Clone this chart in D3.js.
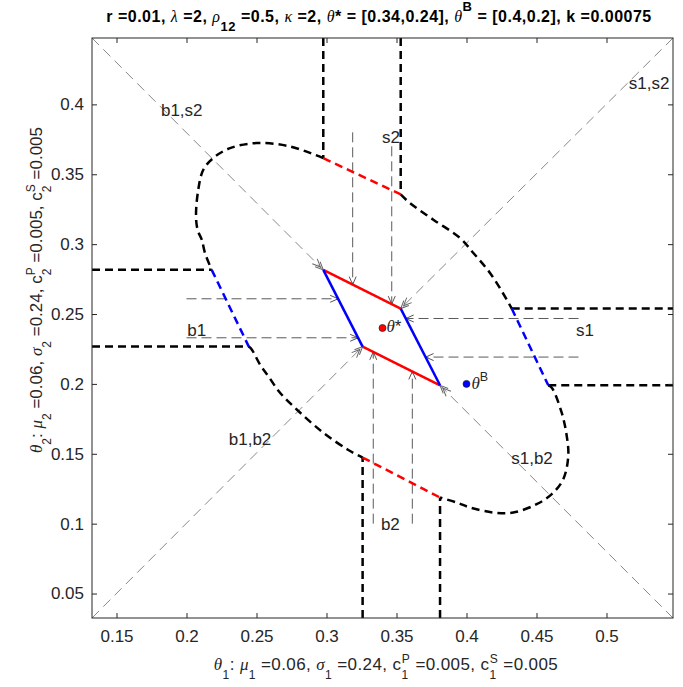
<!DOCTYPE html>
<html>
<head>
<meta charset="utf-8">
<script src="https://cdn.jsdelivr.net/npm/d3@7"></script>
<style>
  body { margin: 0; background: #fff; }
  svg { display: block; font-family: "Liberation Sans", Arial, sans-serif; }
</style>
</head>
<body>
<script>
// axis limits and ticks
const xDomain = [0.1325, 0.5475]
const yDomain = [0.0325, 0.4475]
const xTicks = [0.15, 0.2, 0.25, 0.3, 0.35, 0.4, 0.45, 0.5]
const yTicks = [0.05, 0.1, 0.15, 0.2, 0.25, 0.3, 0.35, 0.4]

const thetaStar = [0.34, 0.24]
const thetaB = [0.4, 0.2]

// no-trade region (solid)
const redEdges = [
  [[0.2977, 0.2816], [0.3530, 0.2539]],
  [[0.3258, 0.2267], [0.3811, 0.1990]]
]
const blueEdges = [
  [[0.2977, 0.2816], [0.3258, 0.2267]],
  [[0.3530, 0.2539], [0.3811, 0.1990]]
]

// outer boundary (thick dashed)
const blackSegs = [
  [[0.2977, 0.4475], [0.2977, 0.3615]],
  [[0.3530, 0.4475], [0.3530, 0.3356]],
  [[0.3258, 0.0325], [0.3258, 0.1473]],
  [[0.3811, 0.0325], [0.3811, 0.1187]],
  [[0.1325, 0.2816], [0.2180, 0.2816]],
  [[0.1325, 0.2267], [0.2445, 0.2267]],
  [[0.4323, 0.2539], [0.5475, 0.2539]],
  [[0.4584, 0.1990], [0.5475, 0.1990]]
]
const arcTopLeft = [[0.2977, 0.3615], [0.2739, 0.3699], [0.2501, 0.3723], [0.2311, 0.3687], [0.2191, 0.3616],
  [0.2120, 0.3532], [0.2084, 0.3389], [0.2068, 0.3199], [0.2080, 0.3100], [0.2109, 0.3032], [0.2132, 0.2937], [0.2180, 0.2816]]
const arcTopRight = [[0.3530, 0.3356], [0.3596, 0.3294], [0.3763, 0.3175], [0.3954, 0.3044], [0.4049, 0.2937],
  [0.4168, 0.2794], [0.4287, 0.2604], [0.4323, 0.2539]]
const arcBottomLeft = [[0.2445, 0.2267], [0.2466, 0.2246], [0.2525, 0.2139], [0.2584, 0.2056], [0.2668, 0.1937],
  [0.2799, 0.1806], [0.2977, 0.1651], [0.3156, 0.1527], [0.3258, 0.1473]]
const arcBottomRight = [[0.4584, 0.1990], [0.4609, 0.1973], [0.4680, 0.1794], [0.4716, 0.1627], [0.4727, 0.1484],
  [0.4691, 0.1318], [0.4609, 0.1211], [0.4501, 0.1139], [0.4334, 0.1080], [0.4191, 0.1080], [0.4025, 0.1116],
  [0.3930, 0.1151], [0.3811, 0.1187]]
const redDashed = [
  [[0.2977, 0.3615], [0.3530, 0.3356]],
  [[0.3258, 0.1473], [0.3811, 0.1187]]
]
const blueDashed = [
  [[0.2180, 0.2816], [0.2445, 0.2267]],
  [[0.4323, 0.2539], [0.4584, 0.1990]]
]

// grey arrows
const diagArrows = [
  [[0.1325, 0.4475], [0.2977, 0.2816]],
  [[0.5475, 0.0325], [0.3811, 0.1990]],
  [[0.5475, 0.4475], [0.3530, 0.2539]],
  [[0.1325, 0.0325], [0.3258, 0.2267]]
]
const flowArrows = [
  [[0.3187, 0.38], [0.3187, 0.2711]],
  [[0.3466, 0.37], [0.3466, 0.2571]],
  [[0.3334, 0.10], [0.3334, 0.2229]],
  [[0.3613, 0.10], [0.3613, 0.2089]],
  [[0.20, 0.2609], [0.3083, 0.2609]],
  [[0.20, 0.2330], [0.3226, 0.2330]],
  [[0.48, 0.2468], [0.3566, 0.2468]],
  [[0.48, 0.2192], [0.3708, 0.2192]]
]

const regionLabels = ['b1,s2', 's1,s2', 'b1,b2', 's1,b2', 's2', 'b2', 'b1', 's1']
const labelX = [0.1966, 0.5304, 0.2454, 0.4468, 0.3461, 0.3456, 0.2073, 0.4846]
const labelY = [0.3960, 0.4151, 0.1606, 0.1469, 0.3768, 0.0996, 0.2384, 0.2386]

const W = 683, H = 687
const m = { l: 92, t: 38, w: 581, h: 580 }
const ink = '#262626'
const serif = '"Liberation Serif", "Times New Roman", serif'

const svg = d3.select('body').append('svg').attr('width', W).attr('height', H)

const x = d3.scaleLinear().domain(xDomain).range([0, m.w])
const y = d3.scaleLinear().domain(yDomain).range([m.h, 0])
const line = d3.line().x(d => x(d[0])).y(d => y(d[1]))
const smooth = d3.line().x(d => x(d[0])).y(d => y(d[1])).curve(d3.curveCatmullRom)

// arrow heads
const defs = svg.append('defs')
defs.append('marker').attr('id', 'head')
  .attr('viewBox', '-10 -6 12 12').attr('markerWidth', 12).attr('markerHeight', 12)
  .attr('markerUnits', 'userSpaceOnUse').attr('orient', 'auto')
  .append('path').attr('d', 'M-8,-3.5L0,0L-8,3.5')
  .attr('fill', 'none').attr('stroke', '#555').attr('stroke-width', 1)
defs.append('marker').attr('id', 'head2')
  .attr('viewBox', '-14 -6 16 12').attr('markerWidth', 16).attr('markerHeight', 12)
  .attr('markerUnits', 'userSpaceOnUse').attr('orient', 'auto')
  .append('path').attr('d', 'M-8,-3.5L0,0L-8,3.5M-12,-3.5L-4,0L-12,3.5')
  .attr('fill', 'none').attr('stroke', '#666').attr('stroke-width', 1)
defs.append('clipPath').attr('id', 'clip')
  .append('rect').attr('width', m.w).attr('height', m.h)

const g = svg.append('g').attr('transform', `translate(${m.l},${m.t})`)
const plot = g.append('g').attr('clip-path', 'url(#clip)')

// diagonals
plot.selectAll('.diag').data(diagArrows).enter().append('path')
  .attr('d', line).attr('fill', 'none')
  .attr('stroke', '#888').attr('stroke-width', 1).attr('stroke-dasharray', '10,6')
  .attr('marker-end', 'url(#head2)')

// flow arrows
plot.selectAll('.flow').data(flowArrows).enter().append('path')
  .attr('d', line).attr('fill', 'none')
  .attr('stroke', '#5a5a5a').attr('stroke-width', 1).attr('stroke-dasharray', '10,5')
  .attr('marker-end', 'url(#head)')

// thick dashed boundary
plot.selectAll('.bseg').data(blackSegs).enter().append('path')
  .attr('d', line).attr('fill', 'none')
  .attr('stroke', '#000').attr('stroke-width', 2.5).attr('stroke-dasharray', '8,5')
plot.selectAll('.arc').data([arcTopLeft, arcTopRight, arcBottomLeft, arcBottomRight]).enter().append('path')
  .attr('d', smooth).attr('fill', 'none')
  .attr('stroke', '#000').attr('stroke-width', 2.5).attr('stroke-dasharray', '8,5')
plot.selectAll('.rd').data(redDashed).enter().append('path')
  .attr('d', line).attr('fill', 'none')
  .attr('stroke', '#f00').attr('stroke-width', 2.5).attr('stroke-dasharray', '8,5')
plot.selectAll('.bd').data(blueDashed).enter().append('path')
  .attr('d', line).attr('fill', 'none')
  .attr('stroke', '#00f').attr('stroke-width', 2.5).attr('stroke-dasharray', '8,5')

// solid region
plot.selectAll('.re').data(redEdges).enter().append('path')
  .attr('d', line).attr('stroke', '#f00').attr('stroke-width', 2.5)
plot.selectAll('.be').data(blueEdges).enter().append('path')
  .attr('d', line).attr('stroke', '#00f').attr('stroke-width', 2.5)

// rich text helper (TeX-like sub/superscripts)
function rich(text, parts, o) {
  let cur = 0
  text.style('white-space', 'pre')
  for (const [t, k, dx] of parts) {
    const tgt = k === 'sub' ? o.sub : k === 'sup' ? o.sup : 0
    const ts = text.append('tspan').text(t)
    if (tgt !== cur) { ts.attr('dy', tgt - cur); cur = tgt }
    if (dx) ts.attr('dx', dx)
    if (k === 'sub' || k === 'sup') ts.attr('font-size', o.small)
    if (k === 'g') ts.attr('font-family', serif).attr('font-style', 'italic').attr('font-weight', 'normal')
  }
}

// points
const pts = [thetaStar, thetaB]
plot.selectAll('.pt').data(pts).enter().append('circle')
  .attr('cx', d => x(d[0])).attr('cy', d => y(d[1])).attr('r', 3.5)
  .attr('fill', (d, i) => i ? '#00f' : '#f00').attr('stroke', '#222').attr('stroke-width', 0.7)
rich(g.append('text').attr('x', x(thetaStar[0]) + 4).attr('y', y(thetaStar[1]) + 4)
  .attr('font-size', 17).attr('fill', ink), [['θ', 'g'], ['*']], { sub: 0, sup: 0, small: 12 })
rich(g.append('text').attr('x', x(thetaB[0]) + 5).attr('y', y(thetaB[1]) + 5)
  .attr('font-size', 17).attr('fill', ink), [['θ', 'g'], ['B', 'sup']], { sub: 0, sup: -8, small: 12.5 })

// region labels
g.selectAll('.lab').data(regionLabels).enter().append('text')
  .attr('x', (d, i) => x(labelX[i])).attr('y', (d, i) => y(labelY[i]))
  .attr('dy', '0.35em').attr('text-anchor', 'middle')
  .attr('font-size', 17).attr('fill', ink).text(d => d)

// axes
const fmt = d => String(d)
const axB = g.append('g').attr('transform', `translate(0,${m.h})`)
  .call(d3.axisBottom(x).tickValues(xTicks).tickFormat(fmt).tickSizeInner(-5).tickSizeOuter(0).tickPadding(12))
const axL = g.append('g')
  .call(d3.axisLeft(y).tickValues(yTicks).tickFormat(fmt).tickSizeInner(-5).tickSizeOuter(0).tickPadding(8))
const axT = g.append('g')
  .call(d3.axisTop(x).tickValues(xTicks).tickFormat('').tickSizeInner(-5).tickSizeOuter(0))
const axR = g.append('g').attr('transform', `translate(${m.w},0)`)
  .call(d3.axisRight(y).tickValues(yTicks).tickFormat('').tickSizeInner(-5).tickSizeOuter(0))
for (const a of [axB, axL, axT, axR]) {
  a.select('.domain').remove()
  a.selectAll('.tick line').attr('stroke', ink)
  a.selectAll('text').attr('fill', ink).attr('font-size', 17)
    .attr('font-family', '"Liberation Sans", Arial, sans-serif')
}
g.append('rect').attr('width', m.w).attr('height', m.h)
  .attr('fill', 'none').attr('stroke', ink).attr('stroke-width', 1)

// title
rich(svg.append('text').attr('x', 379).attr('y', 22).attr('text-anchor', 'middle')
  .attr('font-size', 16).attr('font-weight', 'bold').attr('letter-spacing', 0.5).attr('fill', '#000'),
  [['r =0.01, '], ['λ', 'g'], [' =2, '], ['ρ', 'g'], ['12', 'sub'], [' =0.5, '], ['κ', 'g'], [' =2, '],
   ['θ', 'g'], ['* = [0.34,0.24], '], ['θ', 'g'], ['B', 'sup'], [' = [0.4,0.2], k =0.00075']],
  { sub: 9, sup: -11, small: 13 })

// axis labels
const sw = 6.7
rich(svg.append('text').attr('x', 386).attr('y', 670).attr('text-anchor', 'middle')
  .attr('font-size', 17).attr('letter-spacing', 0.4).attr('fill', ink),
  [['θ', 'g'], ['1', 'sub'], [': '], ['μ', 'g'], ['1', 'sub'], [' =0.06, '], ['σ', 'g'], ['1', 'sub'],
   [' =0.24, c'], ['1', 'sub'], ['P', 'sup', -sw], [' =0.005, c'], ['1', 'sub'], ['S', 'sup', -sw], [' =0.005']],
  { sub: 9, sup: -7, small: 12 })
rich(svg.append('text').attr('transform', 'translate(42,290) rotate(-90)').attr('text-anchor', 'middle')
  .attr('font-size', 17).attr('fill', ink),
  [['θ', 'g'], ['2', 'sub'], [': '], ['μ', 'g'], ['2', 'sub'], [' =0.06, '], ['σ', 'g'], ['2', 'sub'],
   [' =0.24, c'], ['2', 'sub'], ['P', 'sup', -sw], [' =0.005, c'], ['2', 'sub'], ['S', 'sup', -sw], [' =0.005']],
  { sub: 9, sup: -7, small: 12 })
</script>
</body>
</html>
